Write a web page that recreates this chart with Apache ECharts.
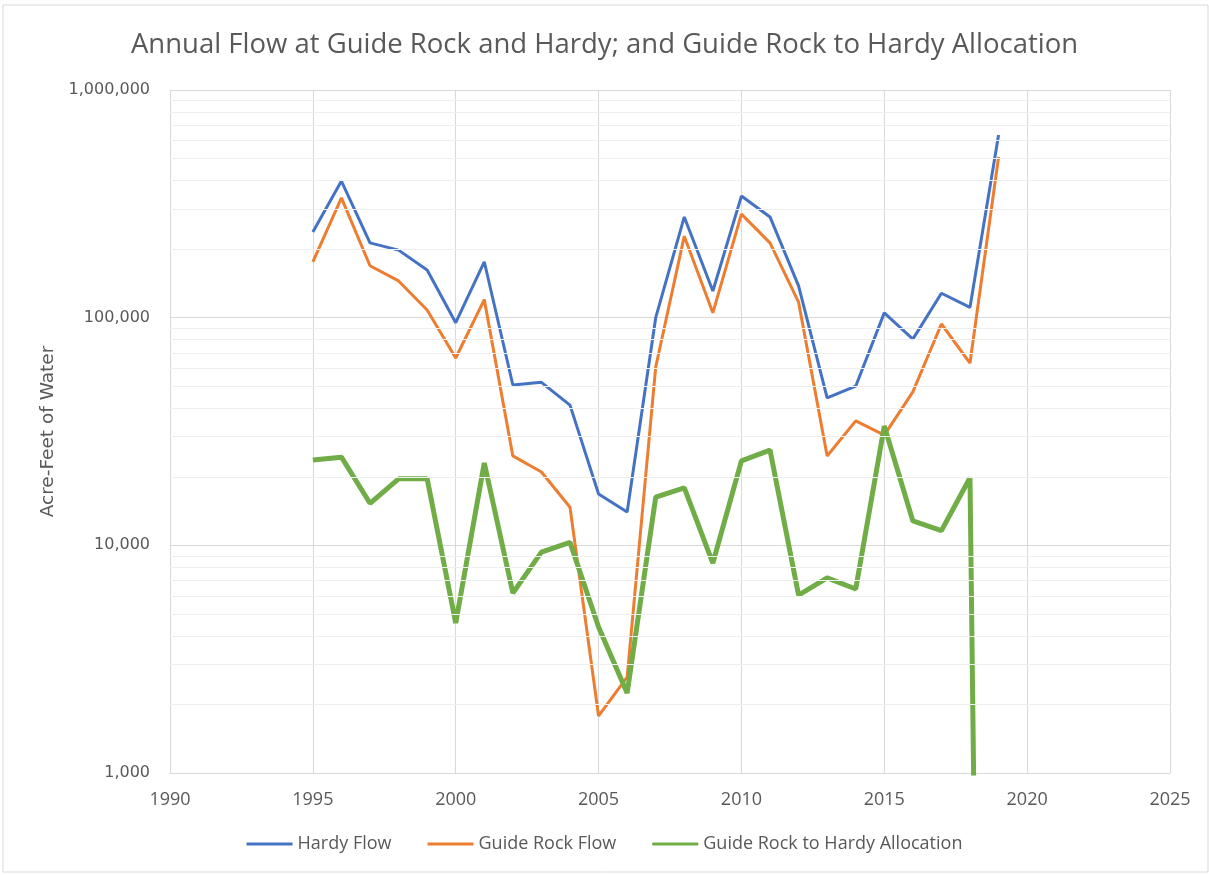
<!DOCTYPE html>
<html>
<head>
<meta charset="utf-8">
<title>Annual Flow at Guide Rock and Hardy</title>
<script src="https://cdn.jsdelivr.net/npm/echarts@6/dist/echarts.min.js"></script>
<style>
  html, body { margin: 0; padding: 0; background: #fff; }
  #main { width: 1209px; height: 875px; }
</style>
</head>
<body>
<div id="main"></div>
<script>
// data
var years = [1995, 1996, 1997, 1998, 1999, 2000, 2001, 2002, 2003, 2004, 2005, 2006,
  2007, 2008, 2009, 2010, 2011, 2012, 2013, 2014, 2015, 2016, 2017, 2018, 2019];

var hardyFlow = [238000, 398000, 213000, 198000, 162000, 95000, 176000, 50600, 52000, 41300,
  16800, 14000, 100000, 277000, 131000, 342000, 277000, 138000, 44400, 50000,
  105000, 80500, 128000, 111000, 634000];

var guideRockFlow = [176000, 336000, 169000, 145000, 108000, 66500, 120000, 24700, 21000, 14700,
  1780, 2640, 60700, 228000, 105000, 285000, 213000, 117000, 24700, 35200,
  30500, 47200, 93800, 63200, 508000];

// last value is ~0 (off the bottom of the log scale)
var allocation = [23700, 24400, 15300, 19600, 19600, 4560, 23000, 6170, 9340, 10300,
  4380, 2245, 16300, 17900, 8360, 23500, 26200, 6050, 7200, 6430,
  33400, 12800, 11600, 19800, 0.000001];

var seriesNames = ['Hardy Flow', 'Guide Rock Flow', 'Guide Rock to Hardy Allocation'];
var seriesColors = ['#4472C4', '#ED7D31', '#70AD47'];

// minor log gridlines (2..9 x each decade)
var minorGrid = [];
[1000, 10000, 100000].forEach(function (d) {
  for (var k = 2; k <= 9; k++) minorGrid.push(d * k);
});

function pairs(vals) {
  return years.map(function (y, i) { return [y, vals[i]]; });
}

var chart = echarts.init(document.getElementById('main'), null, { renderer: 'canvas' });

var textColor = '#595959';

var option = {
  animation: false,
  backgroundColor: '#fff',
  title: {
    text: 'Annual Flow at Guide Rock and Hardy; and Guide Rock to Hardy Allocation',
    left: 'center',
    top: 26,
    textStyle: {
      fontFamily: 'Open Sans',
      fontSize: 27.5,
      fontWeight: 'normal',
      color: textColor
    }
  },
  graphic: [{
    type: 'rect',
    shape: { x: 3, y: 5, width: 1205, height: 867 },
    style: { fill: 'none', stroke: '#d9d9d9', lineWidth: 1 },
    silent: true
  }],
  legend: {
    data: seriesNames,
    bottom: 17,
    left: 'center',
    icon: 'rect',
    itemWidth: 46,
    itemHeight: 3,
    itemGap: 36,
    textStyle: { fontFamily: 'Open Sans', fontSize: 18, color: textColor }
  },
  grid: {
    left: 170,
    right: 39,
    top: 90,
    bottom: 102,
    containLabel: false
  },
  xAxis: {
    type: 'value',
    min: 1990,
    max: 2025,
    interval: 5,
    axisLine: { show: true, lineStyle: { color: '#d9d9d9', width: 1 } },
    axisTick: { show: false },
    axisLabel: {
      margin: 18,
      fontFamily: 'Open Sans',
      fontSize: 18,
      color: textColor,
      formatter: function (v) { return String(v); }
    },
    splitLine: { show: true, lineStyle: { color: '#d9d9d9', width: 1 } }
  },
  yAxis: {
    type: 'log',
    logBase: 10,
    min: 1000,
    max: 1000000,
    name: 'Acre-Feet of Water',
    nameLocation: 'middle',
    nameGap: 112,
    nameTextStyle: { fontFamily: 'DejaVu Sans', fontSize: 18.5, color: textColor },
    axisLine: { show: true, lineStyle: { color: '#d9d9d9', width: 1 } },
    axisTick: { show: false },
    axisLabel: {
      margin: 20,
      fontFamily: 'DejaVu Sans',
      fontSize: 16,
      color: textColor,
      formatter: function (v) { return Math.round(v).toLocaleString('en-US'); }
    },
    splitLine: { show: true, lineStyle: { color: '#d9d9d9', width: 1 } }
  },
  series: [
    {
      name: 'minor grid',
      type: 'line',
      data: [],
      z: 1,
      silent: true,
      markLine: {
        silent: true,
        symbol: 'none',
        animation: false,
        label: { show: false },
        lineStyle: { color: '#efefef', type: 'solid', width: 1 },
        data: minorGrid.map(function (v) { return { yAxis: v }; })
      }
    },
    {
      name: seriesNames[0],
      type: 'line',
      z: 3,
      data: pairs(hardyFlow),
      showSymbol: false,
      color: seriesColors[0],
      lineStyle: { width: 3 }
    },
    {
      name: seriesNames[1],
      type: 'line',
      z: 3,
      data: pairs(guideRockFlow),
      showSymbol: false,
      color: seriesColors[1],
      lineStyle: { width: 3 }
    },
    {
      name: seriesNames[2],
      type: 'line',
      z: 3,
      data: pairs(allocation),
      showSymbol: false,
      color: seriesColors[2],
      lineStyle: { width: 5 }
    }
  ]
};

chart.setOption(option);
</script>
</body>
</html>
